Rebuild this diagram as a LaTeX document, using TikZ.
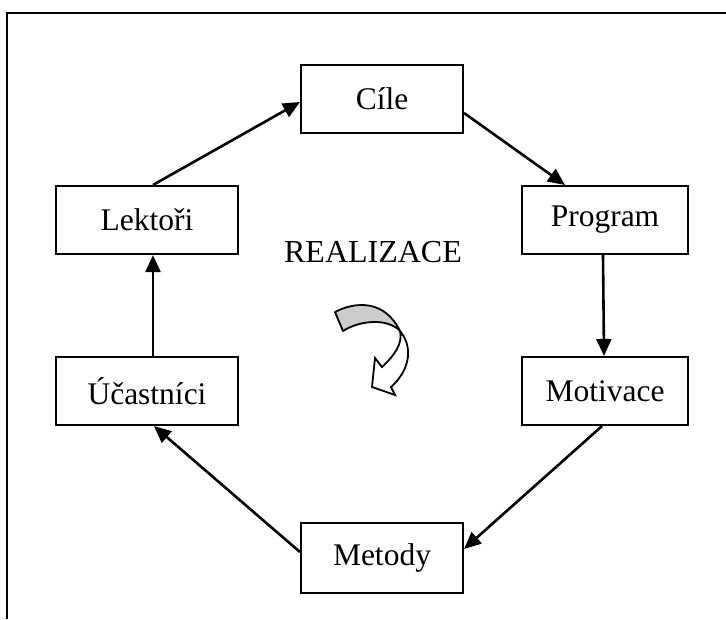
\documentclass[tikz,border=0pt]{standalone}
\usepackage{fontspec}
\setmainfont{Liberation Serif}
\usetikzlibrary{arrows.meta,calc}
\begin{document}
\begin{tikzpicture}[x=1pt,y=-1pt,
  box/.style={draw,line width=2.1pt,minimum height=68pt,inner sep=0pt,font=\fontsize{31.5}{36}\selectfont},
  conn/.style={line width=2.6pt,-{Triangle[length=17pt,width=15pt]}}]
\useasboundingbox (0,0) rectangle (726,619);
\draw[line width=2.5pt] (7,619) -- (7,13) -- (726,13);
\node[box,minimum width=162pt] (cile) at (382,99) {Cíle};
\node[box,minimum width=182pt] (lek) at (147,220) {Lektoři};
\node[box,minimum width=166pt] (prog) at (605,220) {Program};
\node[box,minimum width=182pt] (uc) at (147,391) {Účastníci};
\node[box,minimum width=166pt] (mot) at (605,391) {Motivace};
\node[box,minimum width=162pt,minimum height=70pt] (met) at (382,558) {Metody};
\node[font=\fontsize{32}{36}\selectfont,anchor=base] (real) at (373,262) {REALIZACE};
\draw[conn] ([xshift=6pt]lek.north) -- ([yshift=-3pt]cile.west);
\draw[conn] ([yshift=-14pt]cile.east) -- ([xshift=-40pt]prog.north);
\draw[conn] ([xshift=-2pt]prog.south) -- ([xshift=-1pt]mot.north);
\draw[conn] ([xshift=-3pt]mot.south) -- ([yshift=9pt]met.east);
\draw[conn] ([yshift=6pt]met.west) -- ([xshift=7pt]uc.south);
\draw[conn] ([xshift=6pt]uc.north) -- ([xshift=6pt]lek.south);
% curved 3D arrow
\draw[line width=1.8pt,fill=black!20,line join=round]
  (335,312) .. controls (356,301) and (385,300) .. (400,331)
  .. controls (388,318) and (360,320) .. (343,331) -- cycle;
\draw[line width=1.8pt,fill=white,line join=miter]
  (400,331) .. controls (412,345) and (412,368) .. (391,387)
  -- (395,395) -- (372,387) -- (375,358) -- (382,367)
  .. controls (395,355) and (403,343) .. (400,331) -- cycle;
\end{tikzpicture}
\end{document}
